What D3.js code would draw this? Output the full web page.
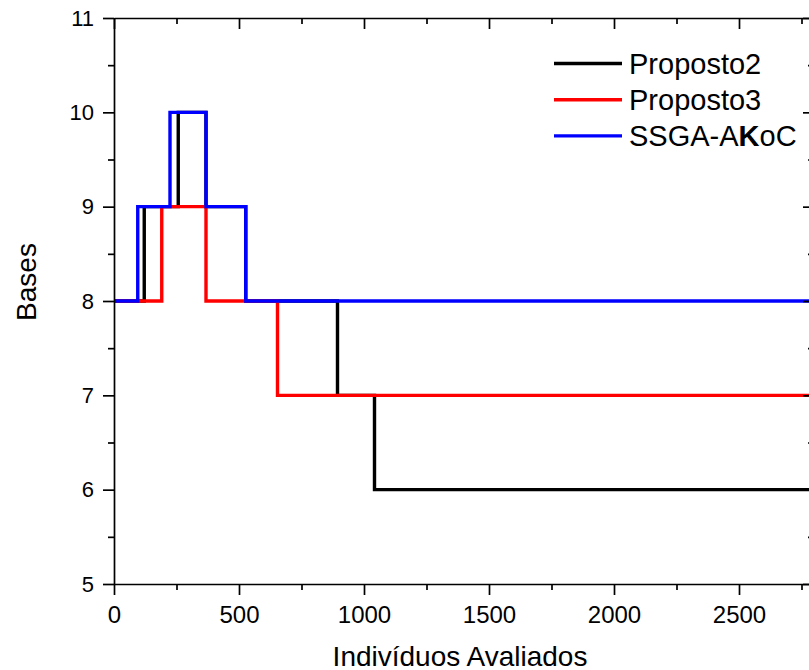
<!DOCTYPE html>
<meta charset="utf-8">
<style>
  body { margin: 0; background: #fff; }
  text { font-family: "Liberation Sans", Arial, sans-serif; fill: #000; }
</style>
<script src="https://d3js.org/d3.v7.min.js"></script>
<div id="chart"></div>
<script>
// step data: [x, y] points where the value changes
var proposto2 = [[0, 8], [121, 8], [121, 9], [257, 9], [257, 10], [368, 10], [368, 9], [527, 9], [527, 8], [894, 8], [894, 7], [1042, 7], [1042, 6], [2800, 6]];
var proposto3 = [[0, 8], [191, 8], [191, 9], [368, 9], [368, 8], [654, 8], [654, 7], [2800, 7]];
var ssga = [[0, 8], [95, 8], [95, 9], [224, 9], [224, 10], [368, 10], [368, 9], [527, 9], [527, 8], [2800, 8]];

var seriesNames = ["Proposto2", "Proposto3", "SSGA-AKoC"];
var seriesColors = ["#000000", "#ff0000", "#0000ff"];
var xTicks = [0, 500, 1000, 1500, 2000, 2500];
var yTicks = [5, 6, 7, 8, 9, 10, 11];

var width = 809, height = 670;
var mLeft = 114, mTop = 18, mBottom = 584;

var svg = d3.select("#chart").append("svg")
  .attr("width", width).attr("height", height);

var x = d3.scaleLinear().domain([0, 2800]).range([mLeft, mLeft + 2800 * 0.25]);
var y = d3.scaleLinear().domain([5, 11]).range([mBottom, mTop]);

var line = d3.line()
  .x(function(d) { return x(d[0]); })
  .y(function(d) { return y(d[1]); });

var data = [proposto2, proposto3, ssga];
data.forEach(function(s, i) {
  svg.append("path")
    .attr("d", line(s))
    .attr("fill", "none")
    .attr("stroke", seriesColors[i])
    .attr("stroke-width", 3.4)
    .attr("stroke-linejoin", "miter");
});

// minor ticks
var xMinor = d3.range(250, 2800, 500);
var yMinor = d3.range(5.5, 11, 1);
var fmt = d3.format("d");
var big = 11, small = 6;

function ax(g) {
  g.selectAll(".domain").attr("stroke-width", 1.7);
  g.selectAll(".tick line").attr("stroke-width", 1.7);
}

// bottom axis
svg.append("g").attr("transform", "translate(0," + mBottom + ")")
  .call(d3.axisBottom(x).tickValues(xTicks).tickFormat(fmt).tickSize(big).tickSizeOuter(0).tickPadding(11))
  .call(ax)
  .selectAll("text").style("font-size", "24px");
svg.append("g").attr("transform", "translate(0," + mBottom + ")")
  .call(d3.axisBottom(x).tickValues(xMinor).tickSize(small).tickFormat("").tickSizeOuter(0))
  .call(ax).select(".domain").remove();

// top axis, ticks inside
svg.append("g").attr("transform", "translate(0," + mTop + ")")
  .call(d3.axisBottom(x).tickValues(xTicks).tickSize(big).tickFormat("").tickSizeOuter(0))
  .call(ax);
svg.append("g").attr("transform", "translate(0," + mTop + ")")
  .call(d3.axisBottom(x).tickValues(xMinor).tickSize(small).tickFormat("").tickSizeOuter(0))
  .call(ax).select(".domain").remove();

// left axis
svg.append("g").attr("transform", "translate(" + mLeft + ",0)")
  .call(d3.axisLeft(y).tickValues(yTicks).tickFormat(fmt).tickSize(big).tickSizeOuter(0).tickPadding(9))
  .call(ax)
  .selectAll("text").style("font-size", "22px");
svg.append("g").attr("transform", "translate(" + mLeft + ",0)")
  .call(d3.axisLeft(y).tickValues(yMinor).tickSize(small).tickFormat("").tickSizeOuter(0))
  .call(ax).select(".domain").remove();

// right axis, ticks inside
svg.append("g").attr("transform", "translate(" + x(2800) + ",0)")
  .call(d3.axisLeft(y).tickValues(yTicks).tickSize(big).tickFormat("").tickSizeOuter(0))
  .call(ax);
svg.append("g").attr("transform", "translate(" + x(2800) + ",0)")
  .call(d3.axisLeft(y).tickValues(yMinor).tickSize(small).tickFormat("").tickSizeOuter(0))
  .call(ax).select(".domain").remove();

// axis titles
svg.append("text")
  .attr("x", 460).attr("y", 666)
  .attr("text-anchor", "middle")
  .style("font-size", "28px")
  .text("Indivíduos Avaliados");
svg.append("text")
  .attr("transform", "translate(36,282) rotate(-90)")
  .attr("text-anchor", "middle")
  .style("font-size", "28px")
  .text("Bases");

// legend
var lg = svg.append("g");
seriesNames.forEach(function(n, i) {
  var yy = 63.5 + i * 36.2;
  lg.append("line")
    .attr("x1", 554).attr("x2", 622)
    .attr("y1", yy).attr("y2", yy)
    .attr("stroke", seriesColors[i]).attr("stroke-width", 3.4);
  var t = lg.append("text")
    .attr("x", 629).attr("y", yy + 10.5)
    .style("font-size", "29px");
  if (n === "SSGA-AKoC") {
    t.append("tspan").text("SSGA-A");
    t.append("tspan").style("font-weight", "bold").text("K");
    t.append("tspan").text("oC");
  } else {
    t.text(n);
  }
});
</script>
